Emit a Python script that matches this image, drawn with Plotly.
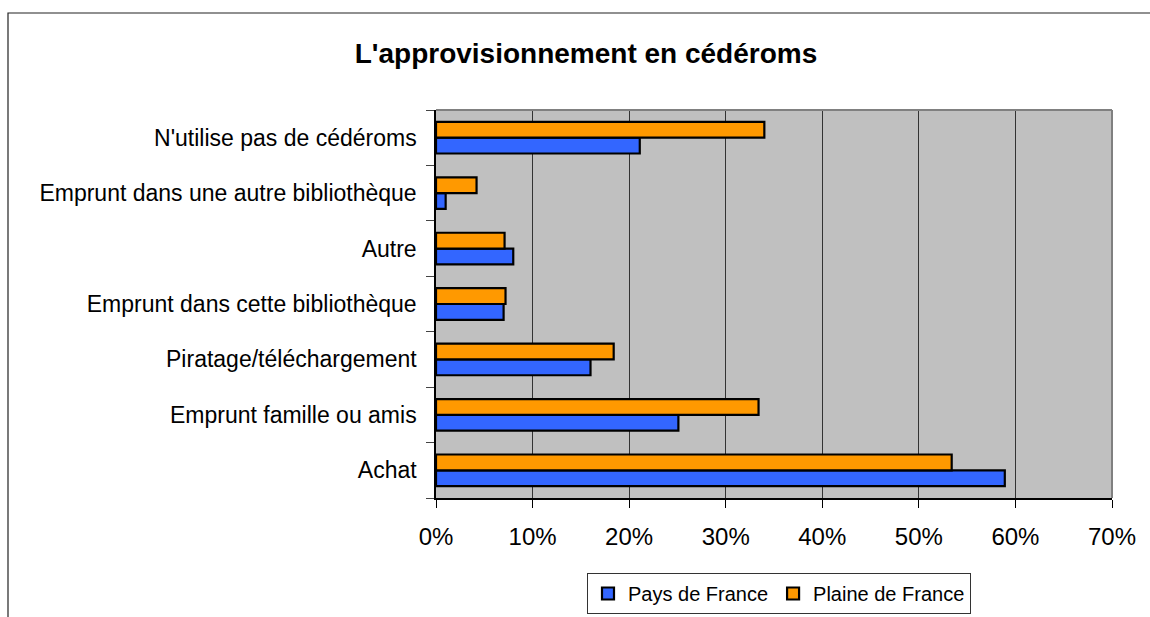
import plotly.graph_objects as go

categories = [
    "Achat",
    "Emprunt famille ou amis",
    "Piratage/téléchargement",
    "Emprunt dans cette bibliothèque",
    "Autre",
    "Emprunt dans une autre bibliothèque",
    "N'utilise pas de cédéroms",
]
pays_de_france = [0.589, 0.251, 0.160, 0.070, 0.080, 0.010, 0.211]
plaine_de_france = [0.534, 0.334, 0.184, 0.072, 0.071, 0.042, 0.340]
x_ticks = [0, 0.1, 0.2, 0.3, 0.4, 0.5, 0.6, 0.7]
x_tick_labels = ["0%", "10%", "20%", "30%", "40%", "50%", "60%", "70%"]

W, H = 1150, 617
L, R, T, B = 436, 38, 110, 119
pw, ph = W - L - R, H - T - B

fig = go.Figure()
fig.add_trace(go.Bar(
    y=categories, x=pays_de_france, orientation="h", name="Pays de France",
    marker=dict(color="#3366FF", line=dict(color="black", width=2.2)),
))
fig.add_trace(go.Bar(
    y=categories, x=plaine_de_france, orientation="h", name="Plaine de France",
    marker=dict(color="#FF9900", line=dict(color="black", width=2.2)),
))

font = "Arial, Liberation Sans, sans-serif"
fig.update_layout(
    width=W, height=H,
    margin=dict(l=L, r=R, t=T, b=B, pad=0),
    paper_bgcolor="white", plot_bgcolor="#C0C0C0",
    barmode="group", bargap=0.43, bargroupgap=0,
    font=dict(family=font, color="black"),
    title=dict(text="<b>L'approvisionnement en cédéroms</b>",
               x=586 / W, xanchor="center", y=1 - 53 / H, yanchor="middle",
               font=dict(size=28, family=font, color="black")),
    xaxis=dict(range=[0, 0.7], tickvals=x_ticks, ticktext=x_tick_labels,
               showgrid=True, gridcolor="#333333", gridwidth=1.3,
               zeroline=False, showline=True, linecolor="black", linewidth=1.5,
               ticks="outside", ticklen=8, tickcolor="black", tickwidth=1.3,
               ticklabelstandoff=8,
               tickfont=dict(size=24, family=font, color="black")),
    yaxis=dict(type="category", categoryorder="array", categoryarray=categories,
               showgrid=False, zeroline=False, showline=True, linecolor="black",
               linewidth=1.5, ticks="outside", tickson="boundaries", ticklen=8,
               tickcolor="#444444", tickwidth=1.3, ticklabelstandoff=13,
               tickfont=dict(size=23, family=font, color="black")),
    legend=dict(orientation="h", x=((585 + 973) / 2 - L) / pw, xanchor="center",
                xref="paper", yref="container",
                y=1 - 614 / H, yanchor="bottom",
                bgcolor="white", bordercolor="#333333", borderwidth=1,
                font=dict(size=20, family=font, color="black"),
                itemwidth=30, traceorder="normal"),
    shapes=[
        dict(type="line", xref="paper", yref="paper", x0=0, x1=1, y0=1, y1=1,
             line=dict(color="#808080", width=2), layer="above"),
        dict(type="line", xref="paper", yref="paper", x0=1, x1=1, y0=0, y1=1,
             line=dict(color="#808080", width=2), layer="above"),
        dict(type="rect", xref="paper", yref="paper",
             x0=(8 - L) / pw, x1=(W + 20 - L) / pw,
             y0=(H - B - (H + 20)) / ph, y1=(H - B - 13) / ph,
             line=dict(color="#222222", width=1.2), fillcolor="rgba(0,0,0,0)",
             layer="above"),
    ],
)

fig.write_html(
    "out.html",
    config={"displayModeBar": False},
    post_script="document.body.style.margin='0';document.body.style.overflow='hidden';",
)
